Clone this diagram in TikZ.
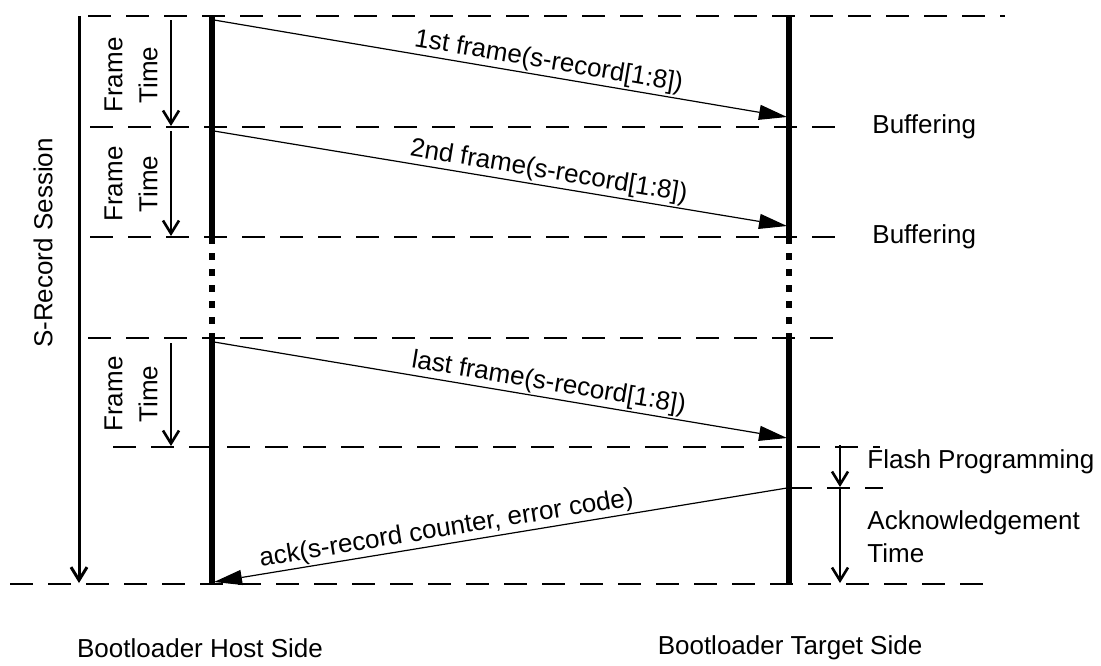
\documentclass[tikz,border=0pt]{standalone}
\usepackage{fontspec}
\setmainfont{Liberation Sans}
\usetikzlibrary{arrows.meta}
\begin{document}
\begin{tikzpicture}[x=0.5pt,y=-0.5pt,
  font=\fontsize{13}{16.5}\selectfont,
  grid/.style={line width=1pt, dash pattern=on 11.5pt off 7.5pt},
  life/.style={line width=2.8pt},
  lifedot/.style={line width=2.8pt, dash pattern=on 3.5pt off 4.5pt},
  msg/.style={line width=0.6pt, -{Triangle[length=14pt,width=7.5pt]}},
  msgrev/.style={line width=0.6pt, {Triangle[length=14pt,width=7.5pt]}-},
  mlbl/.style={sloped, above=0pt, inner sep=0.8pt},
  span/.style={line width=1.3pt, -{Straight Barb[length=6.5pt,width=8pt]}},
  lbl/.style={inner sep=0pt, anchor=west, align=left},
  vlbl/.style={rotate=90, align=center, inner sep=0pt}
]
\useasboundingbox (0,0) rectangle (1101,665);

% dashed grid lines
\draw[grid] (88,16) -- (1005,16);
\draw[grid] (90,127) -- (847,127);
\draw[grid] (90,237) -- (847,237);
\draw[grid] (88,338) -- (845,338);
\draw[grid] (113,447) -- (880,447);
\draw[grid] (789,488) -- (883,488);
\draw[grid] (10,584) -- (985,584);

% lifelines
\coordinate (hT) at (212,16);  \coordinate (hA) at (212,237);
\coordinate (hB) at (212,338); \coordinate (hE) at (212,584);
\coordinate (tT) at (789,16);  \coordinate (tA) at (789,237);
\coordinate (tB) at (789,338); \coordinate (tE) at (789,584);
\draw[life] (hT) -- (hA);
\draw[lifedot] (hA) -- (hB);
\draw[life] (hB) -- (hE);
\draw[life] (tT) -- (tA);
\draw[lifedot] (tA) -- (tB);
\draw[life] (tB) -- (tE);

% messages
\coordinate (m1s) at (214,20);  \coordinate (m1e) at (787,117);
\coordinate (m2s) at (214,131); \coordinate (m2e) at (787,226);
\coordinate (m3s) at (214,342); \coordinate (m3e) at (787,438);
\coordinate (aks) at (787,488); \coordinate (ake) at (214,582);
\draw[msg] (m1s) -- node[mlbl, pos=0.58] (l1) {1st frame(s-record[1:8])} (m1e);
\draw[msg] (m2s) -- node[mlbl, pos=0.58] (l2) {2nd frame(s-record[1:8])} (m2e);
\draw[msg] (m3s) -- node[mlbl, pos=0.58] (l3) {last frame(s-record[1:8])} (m3e);
\draw[msgrev] (ake) -- node[mlbl, pos=0.41] (l4) {ack(s-record counter, error code)} (aks);

% time spans
\coordinate (s0) at (79,16);   \coordinate (s1) at (79,583);
\coordinate (f1a) at (171,20); \coordinate (f1b) at (171,126);
\coordinate (f2a) at (171,131);\coordinate (f2b) at (171,236);
\coordinate (f3a) at (171,343);\coordinate (f3b) at (171,446);
\coordinate (fp0) at (840,445);\coordinate (fp1) at (840,487);
\coordinate (at0) at (840,489);\coordinate (at1) at (840,583);
\draw[span, line width=1.5pt] (s0) -- (s1);
\draw[span] (f1a) -- (f1b);
\draw[span] (f2a) -- (f2b);
\draw[span] (f3a) -- (f3b);
\draw[span] (fp0) -- (fp1);
\draw[span] (at0) -- (at1);

% labels
\node[vlbl] (sess) at (43,243) {S-Record Session};
\node[vlbl, font=\fontsize{13}{17.5}\selectfont] (ft1) at (131,75) {Frame\\Time};
\node[vlbl, font=\fontsize{13}{17.5}\selectfont] (ft2) at (131,184) {Frame\\Time};
\node[vlbl, font=\fontsize{13}{17.5}\selectfont] (ft3) at (131,394) {Frame\\Time};
\node[lbl] (buf1) at (872,127) {Buffering};
\node[lbl] (buf2) at (872,237) {Buffering};
\node[lbl] (flash) at (867,462) {Flash Programming};
\node[lbl] (ackt) at (867,537) {Acknowledgement\\Time};
\node (host) at (200,648) {Bootloader Host Side};
\node (target) at (790,648) {Bootloader Target Side};
\end{tikzpicture}
\end{document}
